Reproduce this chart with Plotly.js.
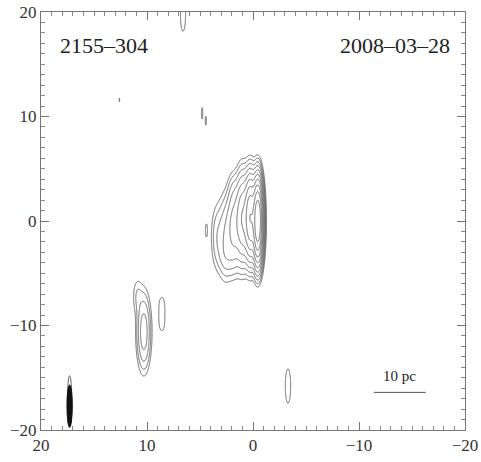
<!DOCTYPE html>
<html>
<head>
<meta charset="utf-8">
<script src="https://cdn.plot.ly/plotly-3.0.1.min.js"></script>
<style>
  html, body { margin: 0; padding: 0; background: #fff; }
  #map { width: 481px; height: 462px; }
</style>
</head>
<body>
<div id="map"></div>
<script>
// Gaussian model components of the source (relative RA / Dec offsets, beam-convolved sizes)
const compX    = [-0.45, 0.25, 1.0, 1.8, 2.6, 3.4, 2.4, 4.4, 1.8, 10.3, 10.9, 8.6, 8.6, -3.3, 6.6, 4.8, 4.45, 12.6];
const compY    = [0.0, 0.3, 0.2, -0.5, -1.5, -1.5, -3.3, -0.9, 2.8, -10.6, -7.2, -8.0, -9.8, -15.8, 19.8, 10.3, 9.6, 11.6];
const compFlux = [1.0, 0.25, 0.06, 0.02, 0.007, 0.003, 0.003, 0.0013, 0.002, 0.012, 0.002, 0.0013, 0.0013, 0.0016, 0.0016, 0.0012, 0.0012, 0.0011];
const compSigX = [0.22, 0.28, 0.33, 0.38, 0.4, 0.35, 0.5, 0.12, 0.3, 0.35, 0.3, 0.3, 0.3, 0.26, 0.25, 0.1, 0.1, 0.08];
const compSigY = [1.7, 1.8, 2.0, 2.0, 2.1, 1.8, 1.0, 0.8, 1.0, 1.9, 1.1, 0.9, 0.9, 1.7, 1.7, 0.9, 0.7, 0.4];

// Contour levels: lowest level, doubling each step
const lowestLevel = 0.001;
const levelSteps = [0, 1, 2, 3, 4, 5, 6, 7, 8, 9];

// Restoring beam (centre, full width, full height); outer outline of the beam
const beamX = [17.3];
const beamY = [-17.7];
const beamW = [0.5];
const beamH = [4.0];
const beamOutlineW = [0.42];
const beamOutlineH = [5.0];

// 10 pc scale bar
const scaleBarX = [-11.4, -16.3];
const scaleBarY = [-16.4, -16.4];

const sourceName = '2155\u2013304';
const obsDate = '2008\u201303\u201328';

// Evaluate the model on a regular grid
const xs = [], ys = [];
for (let i = 0; i <= 800; i++) xs.push(-20 + i * 0.05);
for (let j = 0; j <= 400; j++) ys.push(-20 + j * 0.1);
const zz = ys.map(y => xs.map(x => {
  let s = 0;
  for (let k = 0; k < compX.length; k++) {
    const dx = (x - compX[k]) / compSigX[k];
    const dy = (y - compY[k]) / compSigY[k];
    const e = 0.5 * (dx * dx + dy * dy);
    if (e < 40) s += compFlux[k] * Math.exp(-e);
  }
  return Math.max(Math.log2(Math.max(s, 1e-12) / lowestLevel), -3);
}));

const contourTrace = {
  type: 'contour',
  x: xs, y: ys, z: zz,
  contours: {
    coloring: 'none',
    start: levelSteps[0],
    end: levelSteps[levelSteps.length - 1],
    size: 1,
    showlabels: false
  },
  line: { color: '#666', width: 1, smoothing: 0.6 },
  showscale: false,
  hoverinfo: 'skip'
};

const scaleTrace = {
  type: 'scatter', mode: 'lines',
  x: scaleBarX, y: scaleBarY,
  line: { color: '#555', width: 1 },
  hoverinfo: 'skip', showlegend: false
};

const serif = 'Liberation Serif, Times New Roman, serif';
const axisCommon = {
  showgrid: false, zeroline: false,
  showline: true, linecolor: '#777', linewidth: 1, mirror: 'allticks',
  ticks: 'inside', ticklen: 8, tickcolor: '#777', tickwidth: 1,
  dtick: 10,
  minor: { dtick: 1, ticks: 'inside', ticklen: 4, tickcolor: '#888', tickwidth: 1 },
  tickfont: { family: serif, size: 17, color: '#333' }
};

const layout = {
  width: 481, height: 462,
  margin: { l: 41, r: 16, t: 12, b: 32 },
  paper_bgcolor: '#fff', plot_bgcolor: '#fff',
  showlegend: false,
  font: { family: serif },
  xaxis: Object.assign({}, axisCommon, { range: [20, -20], tick0: 0 }),
  yaxis: Object.assign({}, axisCommon, { range: [-20, 20], tick0: 0 }),
  shapes: [
    {
      type: 'circle', xref: 'x', yref: 'y',
      x0: beamX[0] - beamOutlineW[0] / 2, x1: beamX[0] + beamOutlineW[0] / 2,
      y0: beamY[0] - beamOutlineH[0] / 2 + 0.4, y1: beamY[0] + beamOutlineH[0] / 2 + 0.4,
      fillcolor: 'rgba(0,0,0,0)', line: { color: '#666', width: 1 }
    },
    {
      type: 'circle', xref: 'x', yref: 'y',
      x0: beamX[0] - beamW[0] / 2, x1: beamX[0] + beamW[0] / 2,
      y0: beamY[0] - beamH[0] / 2, y1: beamY[0] + beamH[0] / 2,
      fillcolor: '#111', line: { color: '#111', width: 1 }
    }
  ],
  annotations: [
    { text: sourceName, xref: 'paper', yref: 'paper', x: 0.04, y: 0.92,
      xanchor: 'left', yanchor: 'middle', showarrow: false,
      font: { family: serif, size: 22, color: '#222' } },
    { text: obsDate, xref: 'paper', yref: 'paper', x: 0.97, y: 0.92,
      xanchor: 'right', yanchor: 'middle', showarrow: false,
      font: { family: serif, size: 22, color: '#222' } },
    { text: '10 pc', xref: 'x', yref: 'y',
      x: (scaleBarX[0] + scaleBarX[1]) / 2, y: scaleBarY[0] + 0.6,
      xanchor: 'center', yanchor: 'bottom', showarrow: false,
      font: { family: serif, size: 15, color: '#222' } }
  ]
};

Plotly.newPlot('map', [contourTrace, scaleTrace], layout, { staticPlot: true, displayModeBar: false });
</script>
</body>
</html>
